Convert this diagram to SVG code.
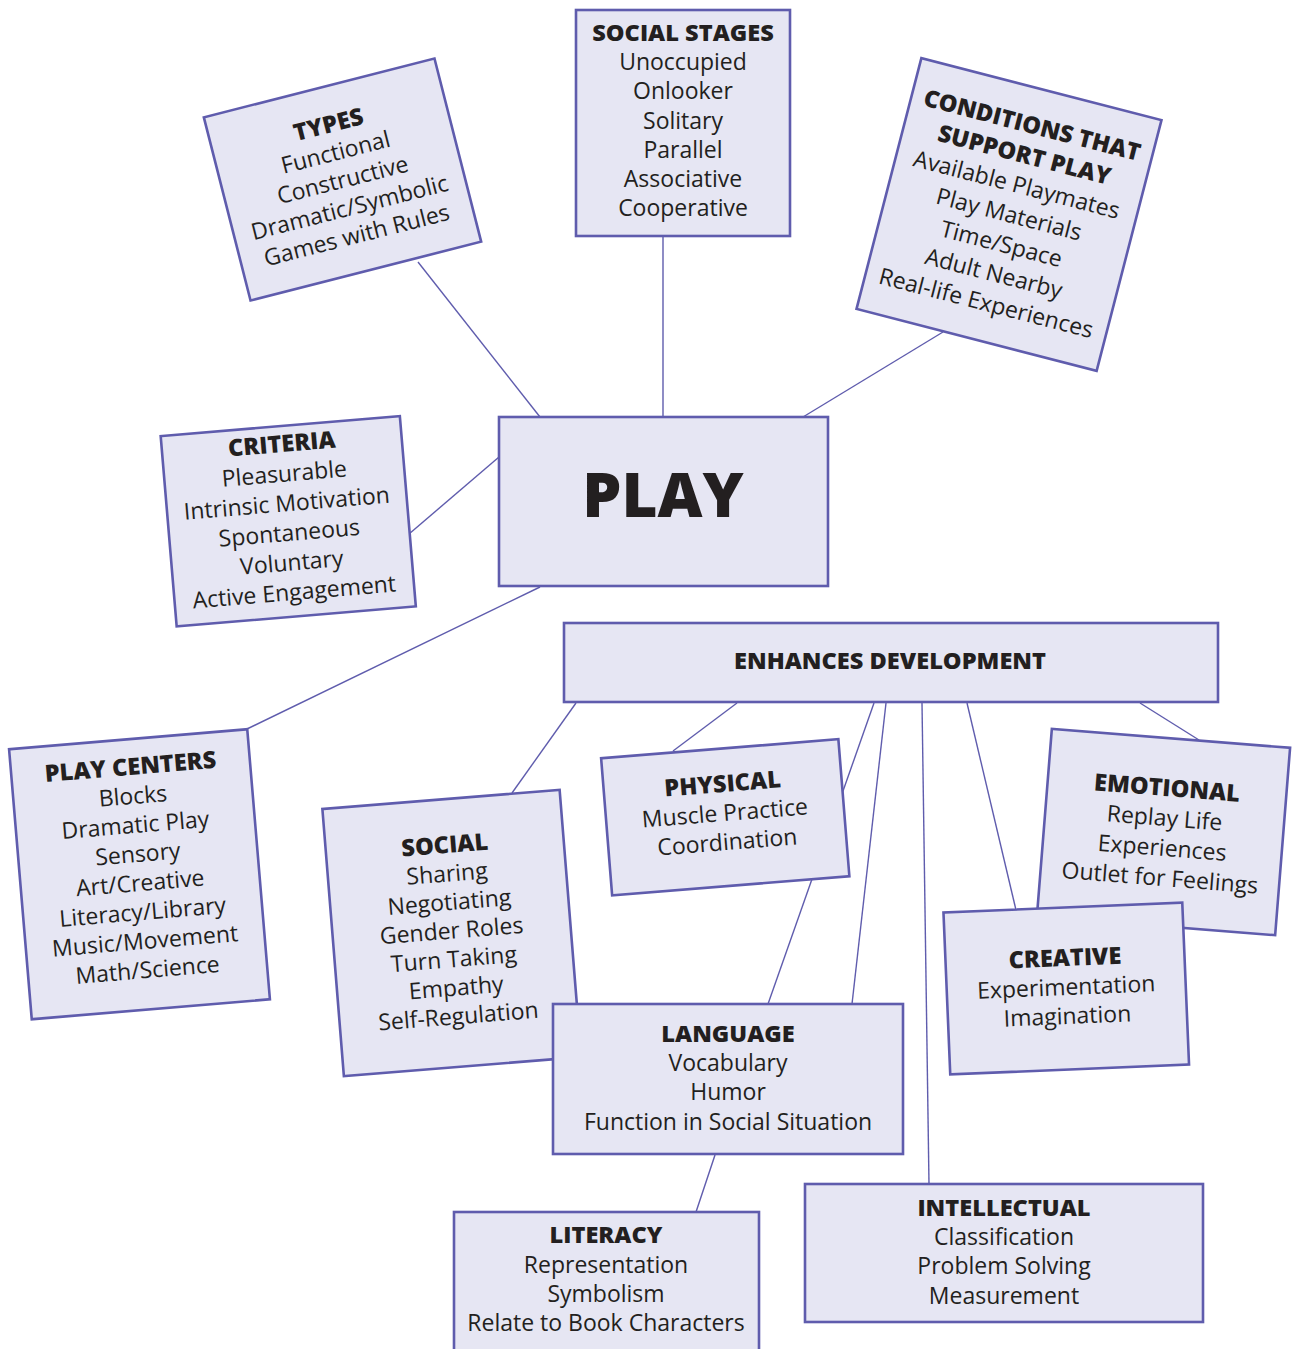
<svg xmlns="http://www.w3.org/2000/svg" width="1292" height="1349" viewBox="0 0 1292 1349">
<style>
.box{fill:#e6e6f3;stroke:#5f5cad;stroke-width:2.6}
.c{stroke:#5f5cad;stroke-width:1.4;fill:none}
text{font-family:"Open Sans","Noto Sans",sans-serif;fill:#231f20;text-anchor:middle;font-size:23px}
.h{font-weight:800;font-size:23.6px}
.big{font-weight:800;font-size:62px}
</style>
<rect width="1292" height="1349" fill="#ffffff"/>
<g id="connectors">
<line class="c" x1="418" y1="262" x2="540" y2="417"/>
<line class="c" x1="663" y1="236" x2="663" y2="417"/>
<line class="c" x1="943" y1="332" x2="803" y2="417"/>
<line class="c" x1="409" y1="534" x2="499" y2="457"/>
<line class="c" x1="540" y1="587" x2="247" y2="729"/>
<line class="c" x1="576" y1="703" x2="512" y2="793"/>
<line class="c" x1="737" y1="703" x2="673" y2="751"/>
<line class="c" x1="874" y1="703" x2="768" y2="1004"/>
<line class="c" x1="886" y1="703" x2="852" y2="1004"/>
<line class="c" x1="922" y1="703" x2="929" y2="1184"/>
<line class="c" x1="967" y1="703" x2="1016" y2="910"/>
<line class="c" x1="1140" y1="703" x2="1199" y2="740"/>
<line class="c" x1="715" y1="1155" x2="696" y2="1212"/>
</g>
<g id="types" transform="translate(342.5,179.5) rotate(-14.3)">
<rect class="box" x="-119" y="-94.5" width="238" height="189"/>
<text class="h" y="-48.6">TYPES</text>
<text y="-20.1">Functional</text>
<text y="8.4">Constructive</text>
<text y="36.9">Dramatic/Symbolic</text>
<text y="65.4">Games with Rules</text>
</g>
<g id="social-stages">
<rect class="box" x="576" y="10" width="214" height="226"/>
<text class="h" x="683" y="41">SOCIAL STAGES</text>
<text x="683" y="70">Unoccupied</text>
<text x="683" y="99">Onlooker</text>
<text x="683" y="129">Solitary</text>
<text x="683" y="158">Parallel</text>
<text x="683" y="187">Associative</text>
<text x="683" y="216">Cooperative</text>
</g>
<g id="conditions" transform="translate(1009,214.5) rotate(14.5)">
<rect class="box" x="-124" y="-129.5" width="248" height="259"/>
<text class="h" y="-84">CONDITIONS THAT</text>
<text class="h" y="-53.4">SUPPORT PLAY</text>
<text y="-22.9">Available Playmates</text>
<text y="7.7">Play Materials</text>
<text y="38.3">Time/Space</text>
<text y="68.8">Adult Nearby</text>
<text y="99.4">Real-life Experiences</text>
</g>
<g id="criteria" transform="translate(288.25,521.25) rotate(-4.8)">
<rect class="box" x="-120" y="-95.5" width="240" height="191"/>
<text class="h" y="-69.5">CRITERIA</text>
<text y="-39.8">Pleasurable</text>
<text y="-10.1">Intrinsic Motivation</text>
<text y="19.6">Spontaneous</text>
<text y="49.3">Voluntary</text>
<text y="79">Active Engagement</text>
</g>
<g id="play">
<rect class="box" x="499" y="417" width="329" height="169"/>
<text class="big" x="663" y="517">PLAY</text>
</g>
<g id="enhances">
<rect class="box" x="564" y="623" width="654" height="79"/>
<text class="h" x="890" y="669">ENHANCES DEVELOPMENT</text>
</g>
<g id="play-centers" transform="translate(139.5,874.25) rotate(-4.8)">
<rect class="box" x="-119.5" y="-135.5" width="239" height="271"/>
<text class="h" y="-99.7">PLAY CENTERS</text>
<text y="-70.6">Blocks</text>
<text y="-41.5">Dramatic Play</text>
<text y="-12.4">Sensory</text>
<text y="16.7">Art/Creative</text>
<text y="45.8">Literacy/Library</text>
<text y="74.9">Music/Movement</text>
<text y="104">Math/Science</text>
</g>
<g id="social" transform="translate(451.75,933) rotate(-4.6)">
<rect class="box" x="-119" y="-134" width="238" height="268"/>
<text class="h" y="-80.2">SOCIAL</text>
<text y="-51.6">Sharing</text>
<text y="-23">Negotiating</text>
<text y="5.6">Gender Roles</text>
<text y="34.2">Turn Taking</text>
<text y="62.8">Empathy</text>
<text y="91.4">Self-Regulation</text>
</g>
<g id="physical" transform="translate(725.25,817.25) rotate(-4.6)">
<rect class="box" x="-119" y="-68.75" width="238" height="137.5"/>
<text class="h" y="-25.4">PHYSICAL</text>
<text y="3.7">Muscle Practice</text>
<text y="32.8">Coordination</text>
</g>
<g id="emotional" transform="translate(1163.5,832) rotate(4.56)">
<rect class="box" x="-119.5" y="-94" width="239" height="188"/>
<text class="h" y="-36.1">EMOTIONAL</text>
<text y="-6.1">Replay Life</text>
<text y="23.9">Experiences</text>
<text y="53.9">Outlet for Feelings</text>
</g>
<g id="creative" transform="translate(1066.25,988.5) rotate(-2.4)">
<rect class="box" x="-119.5" y="-81" width="239" height="162"/>
<text class="h" y="-22.5">CREATIVE</text>
<text y="6.5">Experimentation</text>
<text y="35.5">Imagination</text>
</g>
<g id="language">
<rect class="box" x="553" y="1004" width="350" height="150"/>
<text class="h" x="728" y="1042">LANGUAGE</text>
<text x="728" y="1071">Vocabulary</text>
<text x="728" y="1100">Humor</text>
<text x="728" y="1130">Function in Social Situation</text>
</g>
<g id="literacy">
<rect class="box" x="454" y="1212" width="305" height="145"/>
<text class="h" x="606" y="1243">LITERACY</text>
<text x="606" y="1273">Representation</text>
<text x="606" y="1302">Symbolism</text>
<text x="606" y="1331">Relate to Book Characters</text>
</g>
<g id="intellectual">
<rect class="box" x="805" y="1184" width="398" height="138"/>
<text class="h" x="1004" y="1216">INTELLECTUAL</text>
<text x="1004" y="1245">Classification</text>
<text x="1004" y="1274">Problem Solving</text>
<text x="1004" y="1304">Measurement</text>
</g>
</svg>
